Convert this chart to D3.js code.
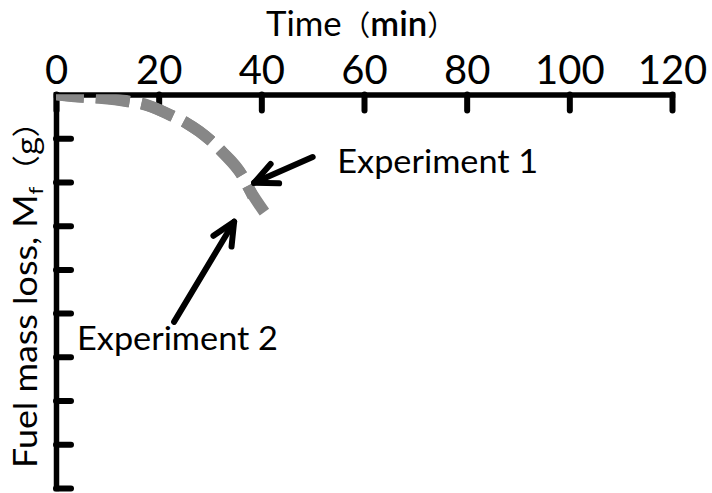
<!DOCTYPE html>
<html>
<head>
<meta charset="utf-8">
<script src="https://cdn.jsdelivr.net/npm/d3@7"></script>
<style>
  html, body { margin: 0; padding: 0; background: #fff; }
  svg { display: block; }
  text { font-family: Lato, "Open Sans", "Noto Sans CJK JP", sans-serif; fill: #000; }
</style>
</head>
<body>
<svg id="chart" width="712" height="493"></svg>
<script>
// Time axis ticks (min) and fuel mass-loss ticks (g, unlabelled)
const timeTicks = [0, 20, 40, 60, 80, 100, 120];
const massTicks = [0, 10, 20, 30, 40, 50, 60, 70, 80, 90];

// Measured mass loss for the two runs
const exp1Time = [0, 5, 8.5, 14, 17.5, 22.5, 25.5, 30, 32.5, 36.5, 38.4];
const exp1Mass = [0, 0.5, 0.8, 1.6, 2.4, 4.8, 6.6, 10.4, 13.3, 19.0, 23.4];
const exp2Time = [0, 5.1, 8.4, 13.9, 17.2, 22.6, 25.4, 30.2, 32.2, 36.3, 37.3, 40.6];
const exp2Mass = [0, 0.6, 0.7, 1.5, 2.2, 4.9, 6.5, 10.6, 12.9, 18.6, 20.9, 26.9];

// Callout labels: text, label anchor (time, mass), arrow tail and tip (time, mass)
const callouts = [
  { text: "Experiment 1", at: [54.8, 17.9], tail: [50.0, 14.3], tip: [38.6, 20.2] },
  { text: "Experiment 2", at: [4.1, 58.4], tail: [23.0, 52.0], tip: [34.7, 29.1] }
];

const svg = d3.select("#chart");
const x = d3.scaleLinear().domain([0, 120]).range([56, 672]);
const y = d3.scaleLinear().domain([0, 90]).range([94.5, 488]);

// Factor that makes a text node span a given length along its reading direction
function fitWidth(node, target) {
  const w = node.getBBox().width;
  return target / w;
}

// Title
const cjk = "'Noto Sans CJK JP', sans-serif";
const title = svg.append("text").attr("font-size", 34);
title.append("tspan").text("Time");
title.append("tspan").attr("font-family", cjk).attr("font-size", 28).text("（");
title.append("tspan").attr("font-weight", 600).text("min");
title.append("tspan").attr("font-family", cjk).attr("font-size", 28).text("）");
const ts = fitWidth(title.node(), 190);
title.attr("transform", `translate(266,36) scale(${ts},1)`);

// X axis along the top
const xAxis = svg.append("g")
  .attr("transform", `translate(0,${y(0)})`)
  .call(d3.axisTop(x).tickValues(timeTicks).tickSize(-16).tickSizeOuter(0).tickPadding(11));
xAxis.select(".domain").attr("stroke", "#000").attr("stroke-width", 5.5).attr("stroke-linecap", "square");
xAxis.selectAll(".tick line").attr("stroke", "#000").attr("stroke-width", 6).attr("stroke-linecap", "round");
xAxis.selectAll(".tick text")
  .attr("font-size", 40)
  .attr("font-family", "Lato, 'Open Sans', sans-serif")
  .attr("fill", "#000");

// Y axis along the left
const yAxis = svg.append("g")
  .attr("transform", `translate(${x(0)},0)`)
  .call(d3.axisLeft(y).tickValues(massTicks).tickSize(-15).tickSizeOuter(0).tickFormat(""));
yAxis.select(".domain").attr("stroke", "#000").attr("stroke-width", 5.5).attr("stroke-linecap", "square");
yAxis.selectAll(".tick line").attr("stroke", "#000").attr("stroke-width", 6).attr("stroke-linecap", "round");
yAxis.selectAll(".tick").filter(d => d === 0).remove();

// Y axis label with subscript
const ylab = svg.append("text").attr("font-size", 32);
ylab.append("tspan").text("Fuel mass loss,  M");
ylab.append("tspan").attr("font-size", 20).attr("dy", 6).text("f");
ylab.append("tspan").attr("dy", -6).attr("font-family", cjk).attr("font-size", 28).text("（g）");
const ys = fitWidth(ylab.node(), 362);
ylab.attr("transform", `translate(37,468) rotate(-90) scale(${ys},1)`);

// Mass-loss curves, clipped to the plotting area
svg.append("clipPath").attr("id", "plot-clip")
  .append("rect")
  .attr("x", x(0)).attr("y", y(0))
  .attr("width", x(120) - x(0) + 10).attr("height", y(90) - y(0) + 10);

const line = d3.line()
  .x(d => x(d[0]))
  .y(d => y(d[1]))
  .curve(d3.curveMonotoneX);

const series = [
  d3.zip(exp1Time, exp1Mass),
  d3.zip(exp2Time, exp2Mass)
];

svg.append("g").attr("clip-path", "url(#plot-clip)")
  .selectAll("path")
  .data(series)
  .join("path")
  .attr("d", line)
  .attr("fill", "none")
  .attr("stroke", "#878787")
  .attr("stroke-width", 11.5)
  .attr("stroke-dasharray", "34,12")
  .attr("stroke-dashoffset", 6)
  .attr("stroke-linejoin", "round");

// Callout arrows with open heads
const headLen = 25, headAng = 25 * Math.PI / 180;
callouts.forEach(c => {
  const [x0, y0] = [x(c.tail[0]), y(c.tail[1])];
  const [x1, y1] = [x(c.tip[0]), y(c.tip[1])];
  const back = Math.atan2(y0 - y1, x0 - x1);
  const b1 = [x1 + headLen * Math.cos(back + headAng), y1 + headLen * Math.sin(back + headAng)];
  const b2 = [x1 + headLen * Math.cos(back - headAng), y1 + headLen * Math.sin(back - headAng)];
  const g = svg.append("g")
    .attr("stroke", "#000").attr("stroke-width", 6)
    .attr("stroke-linecap", "round").attr("stroke-linejoin", "round").attr("fill", "none");
  g.append("line").attr("x1", x0).attr("y1", y0).attr("x2", x1).attr("y2", y1);
  g.append("path").attr("d", `M${b1[0]},${b1[1]}L${x1},${y1}L${b2[0]},${b2[1]}`);

  const t = svg.append("text").attr("font-size", 32).text(c.text);
  const s = fitWidth(t.node(), 201);
  t.attr("transform", `translate(${x(c.at[0])},${y(c.at[1])}) scale(${s},1)`);
});
</script>
</body>
</html>
